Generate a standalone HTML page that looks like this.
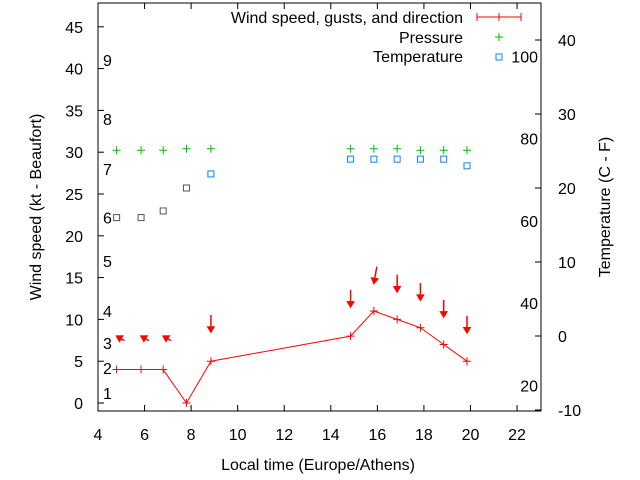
<!DOCTYPE html>
<html><head><meta charset="utf-8"><style>
body{margin:0;background:#fff}
svg{display:block;font-family:"Liberation Sans",sans-serif;font-size:16px}
</style></head><body>
<svg id="c" width="640" height="480" xmlns="http://www.w3.org/2000/svg"></svg>
<script>
const times=[4.8,5.85,6.8,7.8,8.85,14.85,15.85,16.85,17.85,18.85,19.85];
const wind=[4,4,4,0,5,8,11,10,9,7,5];
const gusts=[8,8,8,null,8.5,11.5,14.3,13.3,12.3,10.3,8.4];
const dirs=[120,120,120,null,0,0,10,0,0,0,0];
const pressure=[25.1,25.1,25.1,25.3,25.3,25.3,25.3,25.3,25.1,25.1,25.1];
const temps=[16,16,16.9,20,21.9,23.9,23.9,23.9,23.9,23.9,23];
const xTicks=[4,6,8,10,12,14,16,18,20,22];
const yTicks=[0,5,10,15,20,25,30,35,40,45];
const y2Ticks=[-10,0,10,20,30,40];
const fTicks=[20,40,60,80,100];
const beaufort=[1,2,3,4,5,6,7,8,9];
const beaufortY=[1.2,4.2,7.2,11,17,22.2,28,34,41];
const L=98,R=541,T=3,B=411;
const X=v=>98+(v-4)*23.28;
const Y=v=>403-v*8.36;
const Y2=v=>336-v*7.4;
const svg=document.getElementById('c');
function el(t,a,txt){const e=document.createElementNS('http://www.w3.org/2000/svg',t);for(const k in a)e.setAttribute(k,a[k]);if(txt!==undefined)e.textContent=txt;svg.appendChild(e);return e;}
let e;
e=el('rect',{x:L,y:T,width:R-L,height:B-T,fill:'none',stroke:'#000'});


xTicks.forEach(v=>{
 e=el('line',{x1:X(v),x2:X(v),y1:B,y2:B-6,stroke:'#000'});
 
 
 e=el('line',{x1:X(v),x2:X(v),y1:T,y2:T+6,stroke:'#000'});
 
 
 e=el('text',{x:X(v),y:440,'text-anchor':'middle'},v);
 
 
});
yTicks.forEach(v=>{
 e=el('line',{x1:L,x2:L+6,y1:Y(v),y2:Y(v),stroke:'#000'});
 
 
 e=el('text',{x:83,y:Y(v)+6,'text-anchor':'end'},v);
 
 
});
y2Ticks.forEach(v=>{
 e=el('line',{x1:R,x2:R-6,y1:Y2(v),y2:Y2(v),stroke:'#000'});
 
 
 e=el('text',{x:558,y:Y2(v)+6},v);
 
 
});
fTicks.forEach(v=>{
 e=el('text',{x:538,y:Y2((v-32)/1.8)+6,'text-anchor':'end'},v);
 
 
});
beaufort.forEach((b,i)=>{
 e=el('text',{x:103,y:Y(beaufortY[i])+6},b);
 
 
});
e=el('text',{x:318,y:470,'text-anchor':'middle'},'Local time (Europe/Athens)');


e=el('text',{x:41,y:207,'text-anchor':'middle',transform:'rotate(-90 41 207)'},'Wind speed (kt - Beaufort)');


e=el('text',{x:610,y:207,'text-anchor':'middle',transform:'rotate(-90 610 207)'},'Temperature (C - F)');


e=el('polyline',{points:times.map((t,i)=>X(t)+','+Y(wind[i])).join(' '),fill:'none',stroke:'#f00'});


times.forEach((t,i)=>{
 e=el('path',{d:`M${X(t)-4},${Y(wind[i])}h8M${X(t)},${Y(wind[i])-4}v8`,stroke:'#f00'});
 
 
 if(gusts[i]!==null){
  const gx=X(t),gy=Y(gusts[i]);
  const len=dirs[i]>90?-9:-17;
  e=el('path',{d:`M0,0L-3,-5L3,-5Z M0,-3V${len}`,stroke:'#f00',fill:'#f00','stroke-width':1.5,transform:`translate(${gx},${gy}) rotate(${dirs[i]})`});
  
  
 }
 e=el('path',{d:`M${X(t)-4},${Y2(pressure[i])}h8M${X(t)},${Y2(pressure[i])-4}v8`,stroke:'#0b0'});
 
 
 e=el('rect',{x:X(t)-3,y:Y2(temps[i])-3,width:6,height:6,fill:'none',stroke:i<4?'#555':'#08f'});
 
 
});
e=el('text',{x:463,y:23,'text-anchor':'end'},'Wind speed, gusts, and direction');


e=el('path',{d:'M477,17h44M477,13v8M521,13v8M499,13v8',stroke:'#f00'});


e=el('text',{x:463,y:43,'text-anchor':'end'},'Pressure');


e=el('path',{d:'M495,37h8M499,33v8',stroke:'#0b0'});


e=el('text',{x:463,y:62,'text-anchor':'end'},'Temperature');


e=el('rect',{x:496,y:54,width:6,height:6,fill:'none',stroke:'#08f'});


</script>
</body></html>
